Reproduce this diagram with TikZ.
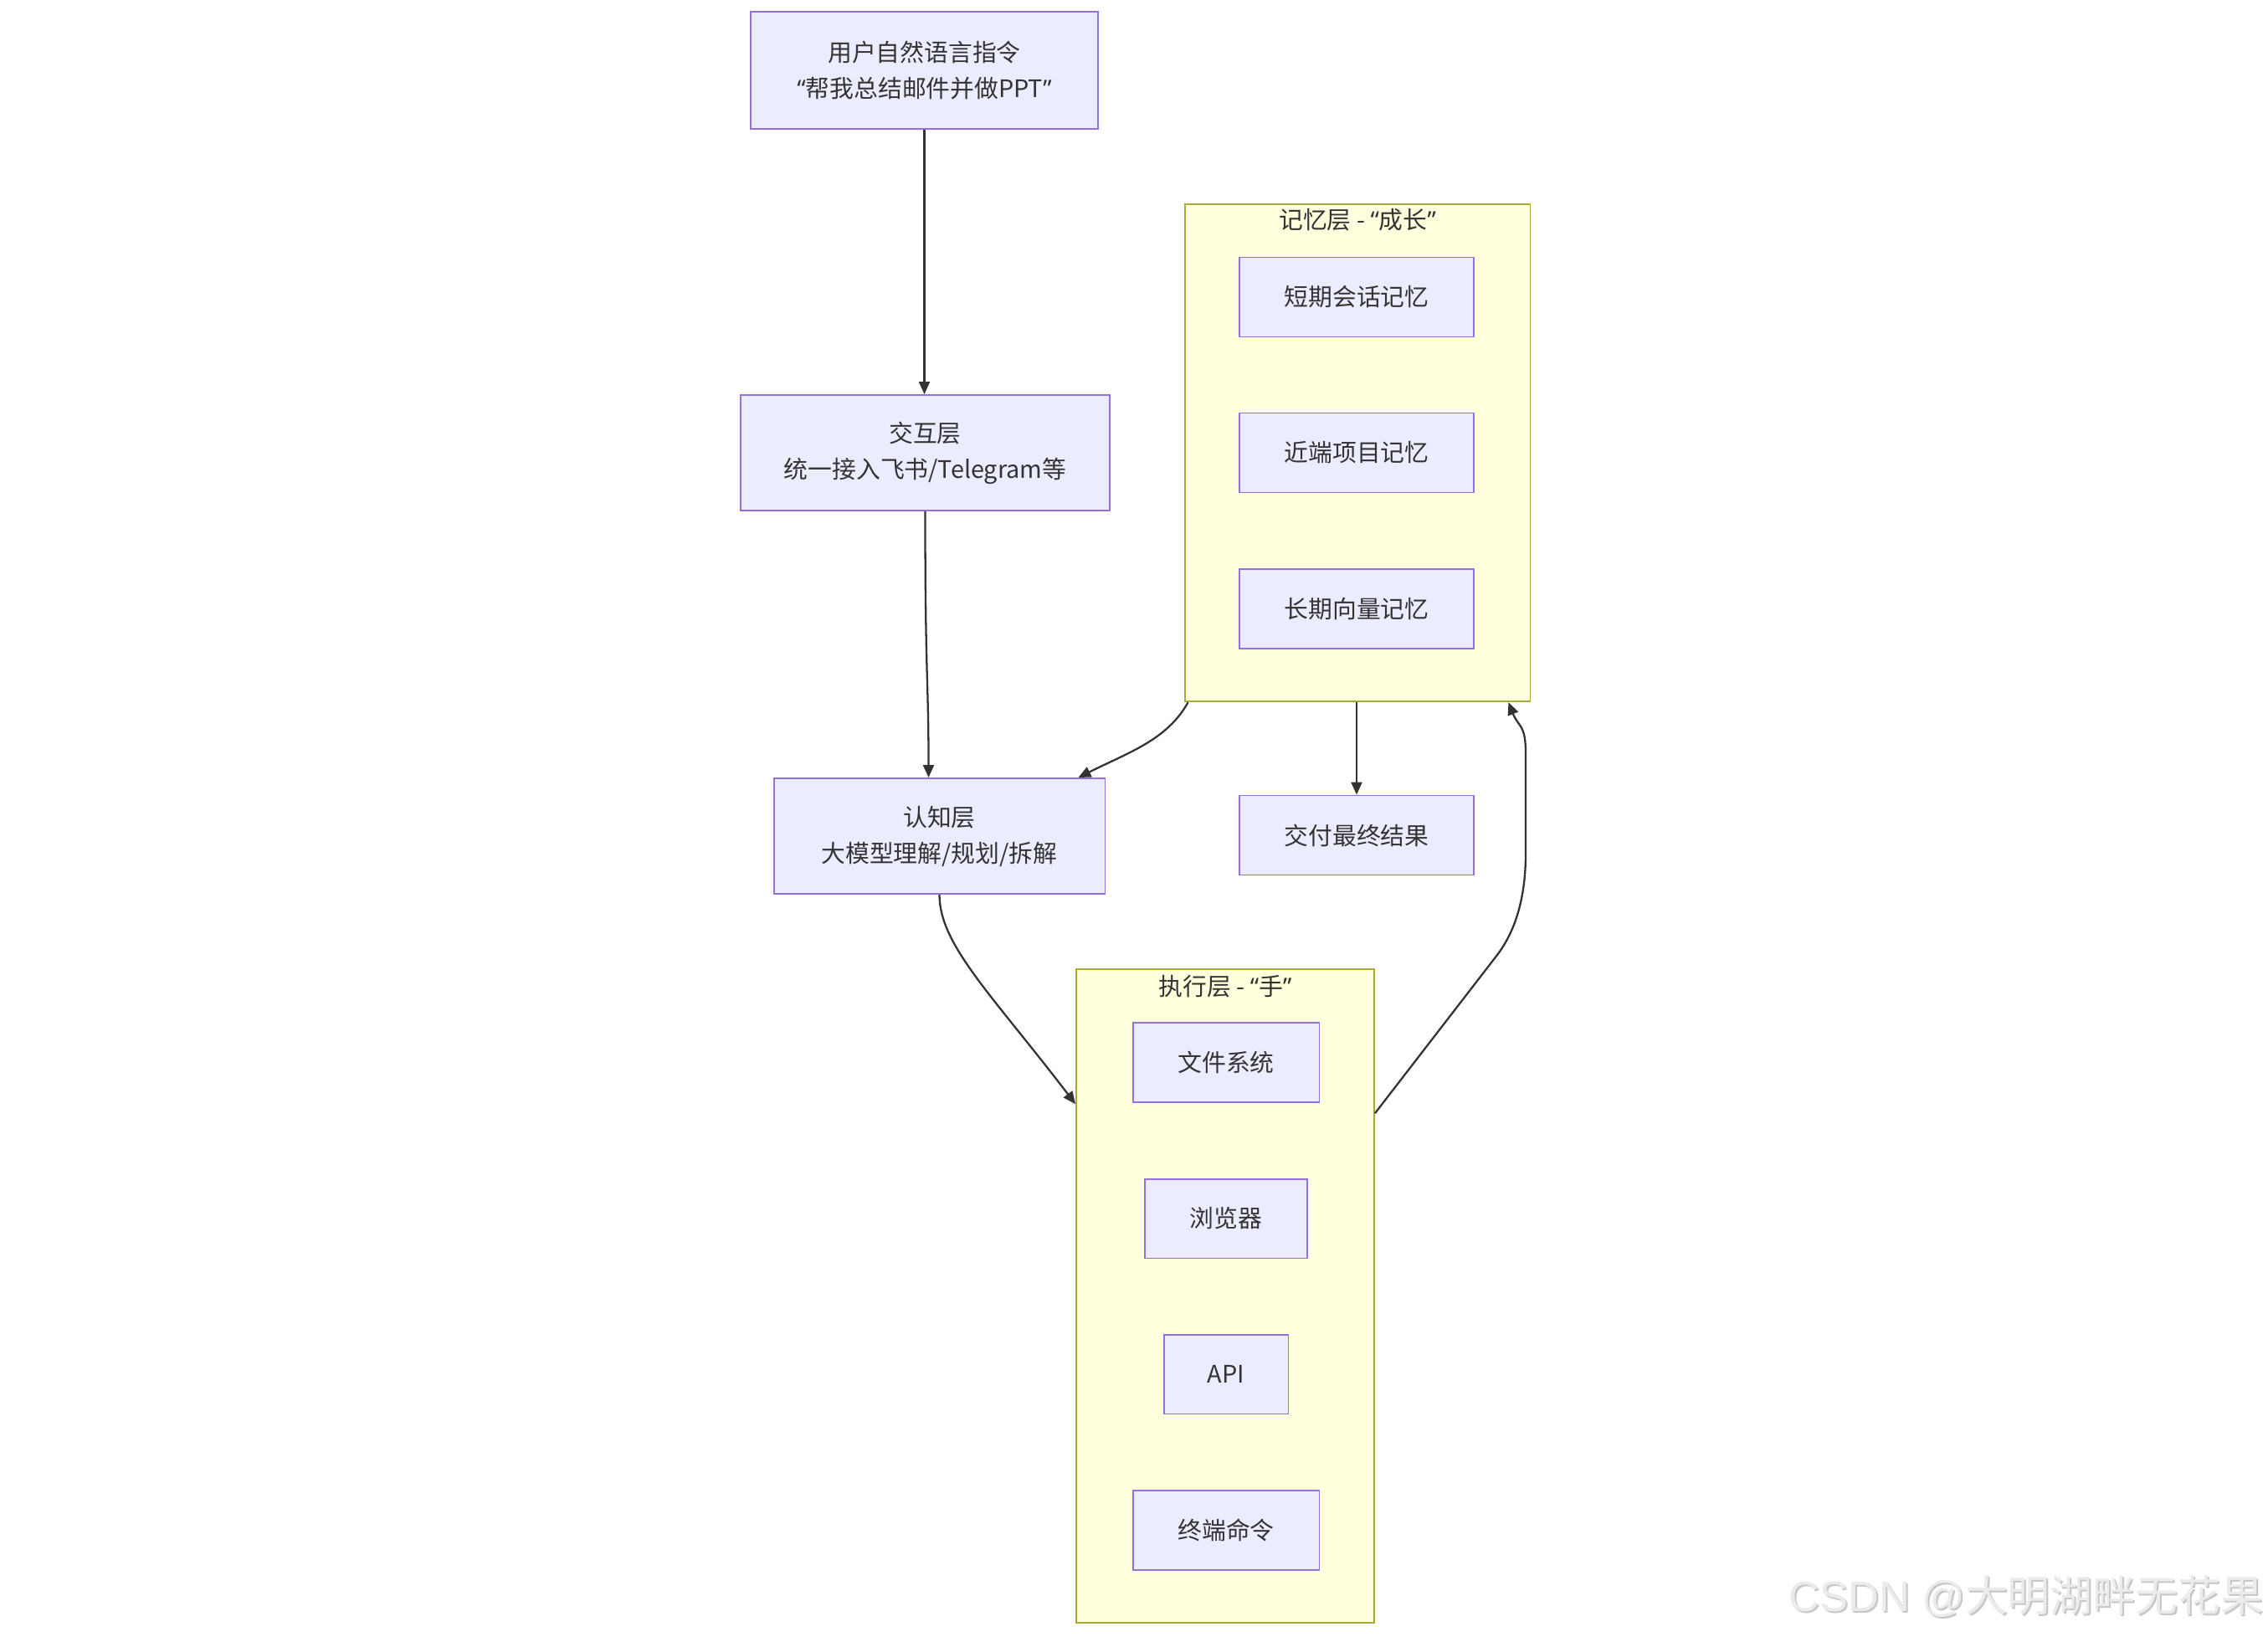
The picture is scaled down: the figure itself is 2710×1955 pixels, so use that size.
\documentclass[tikz,border=0pt]{standalone}
\usepackage{fontspec}
\setmainfont{Noto Sans CJK SC}
\newfontfamily\wmlat{Liberation Sans}
\newfontfamily\qfont{Noto Sans}
\newcommand\myoq{{\qfont “}}
\newcommand\mycq{{\qfont ”}}
\usetikzlibrary{arrows.meta,calc}
\definecolor{nodefill}{HTML}{ECECFF}
\definecolor{nodestroke}{HTML}{9370DB}
\definecolor{clfill}{HTML}{FFFFDE}
\definecolor{clstroke}{HTML}{AAAA33}
\definecolor{txt}{HTML}{333333}
\definecolor{edgec}{HTML}{333333}
\begin{document}
\begin{tikzpicture}[x=0.02cm,y=-0.02cm,
  box/.style={draw=nodestroke,fill=nodefill,line width=1.1pt,text=txt,font=\fontsize{16.4}{24.5}\selectfont,align=center,inner sep=0pt},
  cluster/.style={draw=clstroke,fill=clfill,line width=1.1pt,inner sep=0pt},
  ttl/.style={text=txt,font=\fontsize{16.4}{24.5}\selectfont,inner sep=0pt},
  arr/.style={draw=edgec,line width=1.3pt,-{Triangle[length=0.3cm,width=0.26cm]}},
  wmstyle/.style={anchor=east,font=\fontsize{29}{29}\selectfont,inner sep=0pt}]
\useasboundingbox (0,0) rectangle (2710,1955);
\fill[white] (0,0) rectangle (2710,1955);

% clusters
\node[cluster,minimum width=8.26cm,minimum height=11.89cm] (memc) at (1622,541) {};
\node[ttl] (memt) at (1622,263) {记忆层 - \myoq 成长\mycq};
\node[cluster,minimum width=7.12cm,minimum height=15.62cm] (execc) at (1464,1548.6) {};
\node[ttl] (exect) at (1464,1179) {执行层 - \myoq 手\mycq};

% main nodes
\node[box,minimum width=8.3cm,minimum height=2.8cm] (user) at (1104.5,84) {用户自然语言指令\\\myoq 帮我总结邮件并做PPT\mycq};
\node[box,minimum width=8.82cm,minimum height=2.76cm] (inter) at (1105.5,541) {交互层\\统一接入飞书/Telegram等};
\node[box,minimum width=7.92cm,minimum height=2.76cm] (cog) at (1122.5,999) {认知层\\大模型理解/规划/拆解};
\node[box,minimum width=5.6cm,minimum height=1.9cm] (deliver) at (1621,998) {交付最终结果};

% memory nodes
\node[box,minimum width=5.6cm,minimum height=1.9cm] (m1) at (1621,355) {短期会话记忆};
\node[box,minimum width=5.6cm,minimum height=1.9cm] (m2) at (1621,541) {近端项目记忆};
\node[box,minimum width=5.6cm,minimum height=1.9cm] (m3) at (1621,727.6) {长期向量记忆};

% exec nodes
\node[box,minimum width=4.46cm,minimum height=1.9cm] (e1) at (1465,1269.5) {文件系统};
\node[box,minimum width=3.88cm,minimum height=1.9cm] (e2) at (1465,1456) {浏览器};
\node[box,minimum width=2.98cm,minimum height=1.9cm] (e3) at (1465,1642) {API};
\node[box,minimum width=4.46cm,minimum height=1.9cm] (e4) at (1465,1828.6) {终端命令};

% edges
\draw[arr] (user.south) -- (user.south |- inter.north);
\draw[arr] (inter.south) .. controls +(0,200) and +(0,-120) .. ($(cog.north)+(-13,0)$);
\draw[arr] (cog.south) .. controls +(0,60) and +(-100,-131) .. ($(execc.north west)+(0,162)$);
\coordinate (w1) at (1789,1141);
\coordinate (w2) at (1823,1020);
\coordinate (w3) at (1823,900);
\draw[arr] ($(execc.north east)+(0,173)$) -- (w1) .. controls +(25,-33) and +(0,45) .. (w2) -- (w3) .. controls +(0,-35) and +(12,30) .. ($(memc.south east)+(-27,0)$);
\draw[arr] ($(memc.south west)+(5,0)$) .. controls +(-25,45) and +(60,-30) .. ($(cog.north east)+(-33,0)$);
\draw[arr] (memc.south -| deliver.north) -- (deliver.north);

% watermark
\node[wmstyle,text=black!22] (wmshadow) at (2707,1910) {{\wmlat CSDN @}大明湖畔无花果};
\node[wmstyle,text=black!8] (wm) at (2705,1908) {{\wmlat CSDN @}大明湖畔无花果};
\end{tikzpicture}
\end{document}
